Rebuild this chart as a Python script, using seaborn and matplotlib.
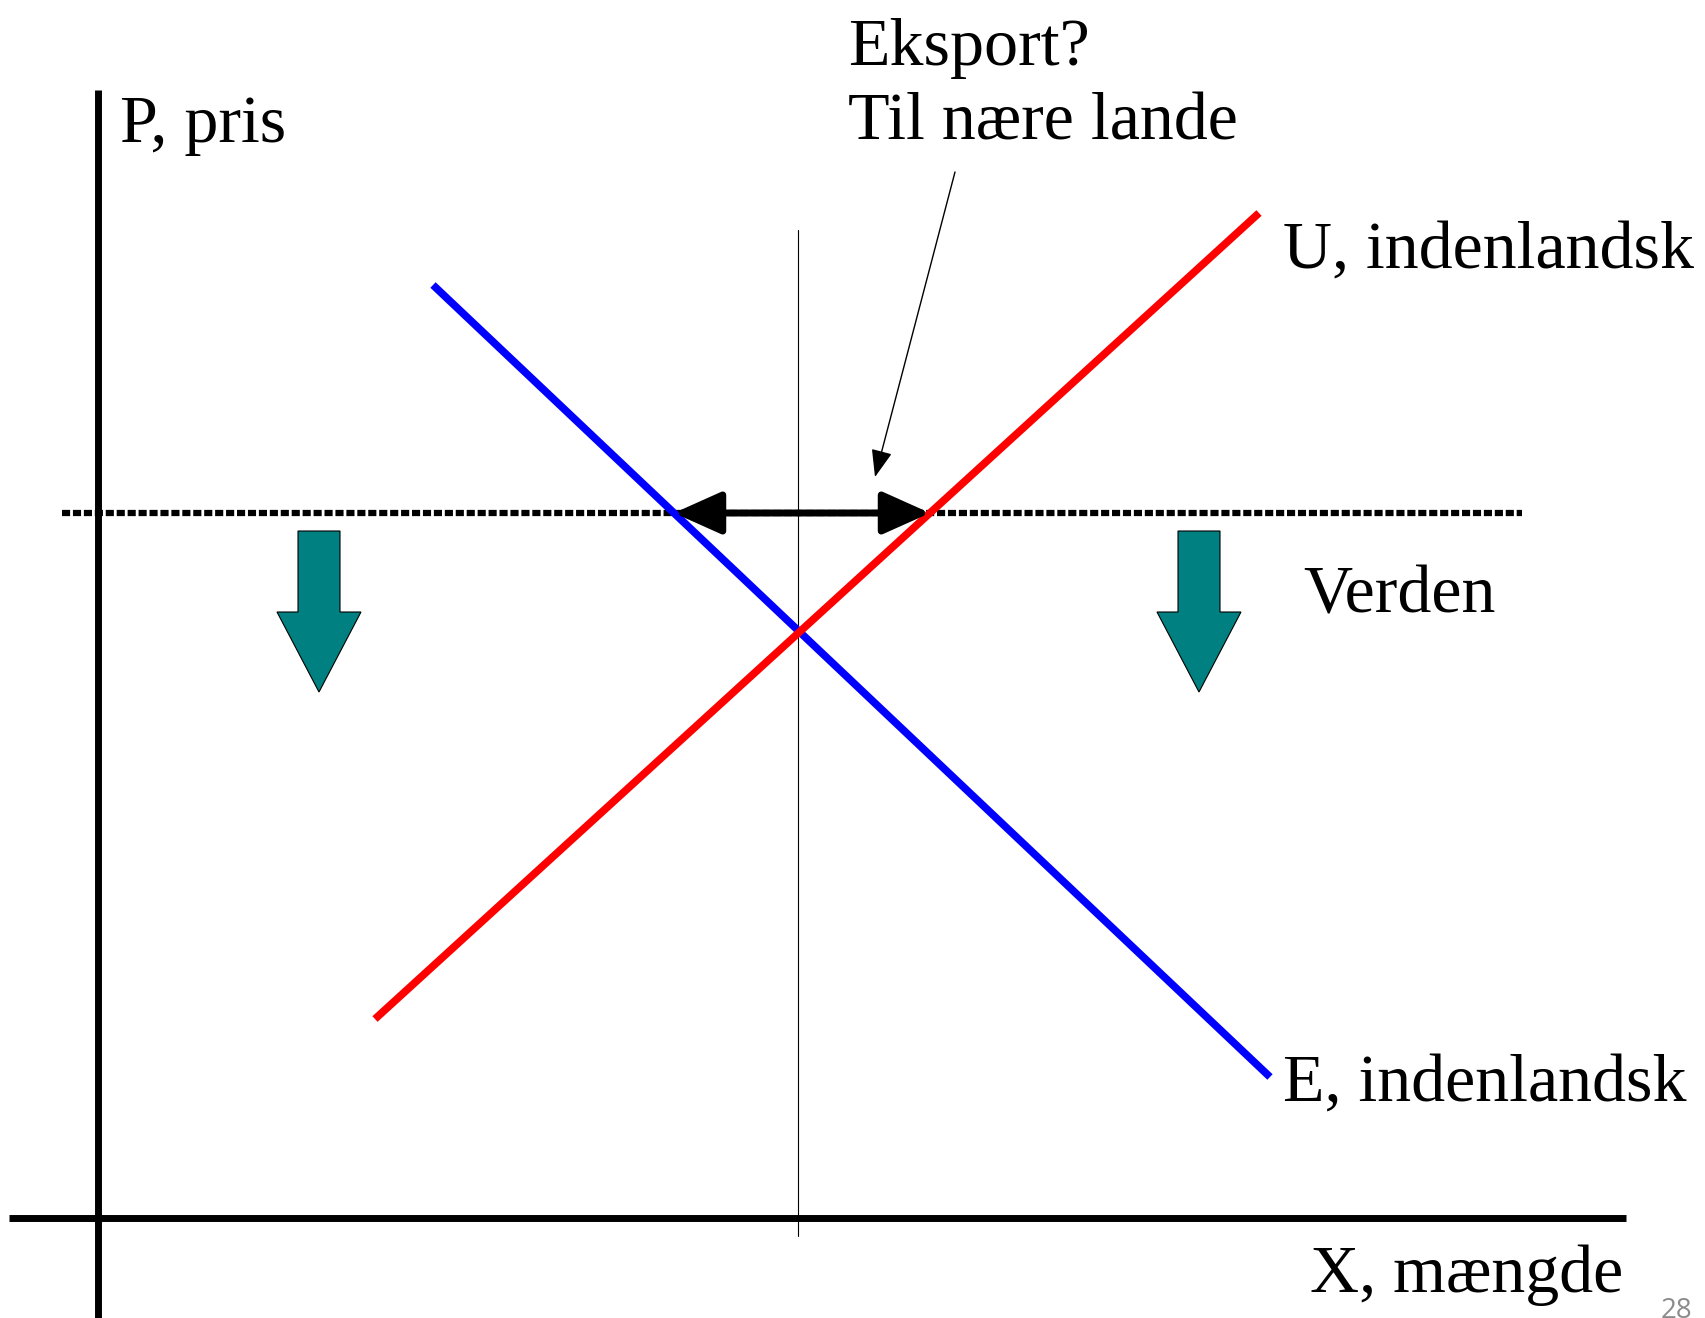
import matplotlib.pyplot as plt
import seaborn as sns

# chart values (data units: 1 unit = 10 px of the slide, origin at the axes cross)
supply_x = [27.7, 116.1]          # U, indenlandsk
supply_y = [19.9, 100.5]
demand_x = [33.5, 117.2]          # E, indenlandsk
demand_y = [93.3, 14.1]
world_price = 70.5                # Verden
world_x = [-3.6, 142.4]
eq_x = 70.0                       # autarky quantity
eq_line_y = [-1.8, 98.8]
export_from, export_to = 57.6, 83.2
drop_arrows_x = [22.1, 110.1]
drop_top, drop_bottom = 68.7, 52.6
note_tail = (85.7, 104.6)
note_tip = (77.7, 74.1)

x_axis = [-8.9, 152.8]
y_axis = [-10.5, 112.8]

labels = {
    "p": "P, pris",
    "x": "X, mængde",
    "u": "U, indenlandsk",
    "e": "E, indenlandsk",
    "w": "Verden",
    "q1": "Eksport?",
    "q2": "Til nære lande",
}

sns.set_theme(style="white")
plt.rcParams["font.family"] = ["Liberation Serif", "DejaVu Serif"]
plt.rcParams["text.color"] = "black"
FS = 49

fig = plt.figure(figsize=(17.05, 13.18), dpi=100)
ax = fig.add_axes([0, 0, 1, 1])
ax.set_xlim(-9.8, 160.7)
ax.set_ylim(-10.0, 121.8)
ax.set_aspect("equal")
ax.axis("off")

# axes cross
ax.plot(x_axis, [0, 0], color="black", lw=5, solid_capstyle="butt")
ax.plot([0, 0], y_axis, color="black", lw=5, solid_capstyle="butt")

# thin line at the domestic equilibrium
ax.plot([eq_x, eq_x], eq_line_y, color="black", lw=0.8)

# world price, dotted
ax.plot(world_x, [world_price, world_price], color="black", lw=4.5,
        dashes=(1.3, 0.45), solid_capstyle="butt", dash_capstyle="butt")

# domestic supply and demand
sns.lineplot(x=demand_x, y=demand_y, color="#0000ff", lw=5.5, ax=ax,
             solid_capstyle="butt")
sns.lineplot(x=supply_x, y=supply_y, color="#ff0000", lw=5.5, ax=ax,
             solid_capstyle="butt")

# export gap
ax.annotate("", xy=(export_to, world_price), xytext=(export_from, world_price),
            arrowprops=dict(arrowstyle="<|-|>,head_length=2.9,head_width=1.3",
                            color="black", lw=5, shrinkA=0, shrinkB=0,
                            mutation_scale=10))

# falling world price arrows
for xc in drop_arrows_x:
    ax.arrow(xc, drop_top, 0, drop_bottom - drop_top, width=4.2,
             head_width=8.4, head_length=8.0, length_includes_head=True,
             fc="#008080", ec="black", lw=0.8)

# question annotation
ax.text(75.0, 115.3, labels["q1"], fontsize=FS, ha="left", va="baseline")
ax.text(75.0, 107.8, labels["q2"], fontsize=FS, ha="left", va="baseline")
ax.annotate("", xy=note_tip, xytext=note_tail,
            arrowprops=dict(arrowstyle="-|>,head_length=1.7,head_width=0.65",
                            color="black", lw=1, shrinkA=0, shrinkB=0,
                            mutation_scale=10))

ax.text(2.2, 107.6, labels["p"], fontsize=FS, ha="left", va="baseline")
ax.text(152.5, -7.4, labels["x"], fontsize=FS, ha="right", va="baseline")
ax.text(118.5, 95.0, labels["u"], fontsize=FS, ha="left", va="baseline")
ax.text(118.5, 11.7, labels["e"], fontsize=FS, ha="left", va="baseline")
ax.text(120.5, 60.6, labels["w"], fontsize=FS, ha="left", va="baseline")

# slide number (cut by the slide edge, as in the source)
ax.text(159.4, -10.0, "28", fontsize=20, color="#8c8c8c", ha="right",
        va="baseline", family=["Open Sans", "DejaVu Sans"])

fig.savefig("out.png", dpi=100)
